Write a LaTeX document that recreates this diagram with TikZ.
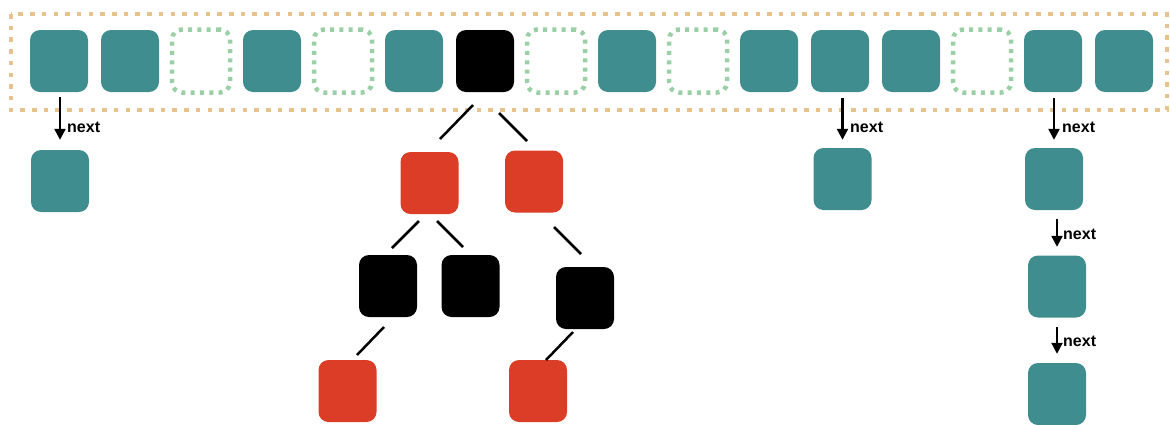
\documentclass[tikz,border=0pt]{standalone}
\usepackage{fontspec}
\setmainfont{Liberation Sans}
\usetikzlibrary{arrows.meta}
\definecolor{tealc}{HTML}{3F8D8E}
\definecolor{redc}{HTML}{DC3D27}
\definecolor{greenc}{HTML}{9BCFA6}
\definecolor{orangec}{HTML}{E8C38D}
\begin{document}
\begin{tikzpicture}[x=1pt,y=-1pt,
  box/.style={rounded corners=10pt, minimum width=58pt, minimum height=62pt, inner sep=0pt, draw=none},
  tealbox/.style={box, fill=tealc},
  redbox/.style={box, fill=redc},
  blackbox/.style={box, fill=black},
  emptybox/.style={box, draw=greenc, line width=4.5pt, dash pattern=on 4pt off 5.3pt, minimum height=63pt},
  nextarrow/.style={line width=2.3pt, -{Triangle[length=11pt,width=11pt]}},
  nextlabel/.style={font=\bfseries\fontsize{16}{17}\selectfont, inner sep=0pt, anchor=base west},
  edge/.style={line width=2.5pt}
]
\useasboundingbox (0,0) rectangle (1170,424);
% outer dashed frame
\draw[orangec, line width=4.6pt, dash pattern=on 4.5pt off 7.2pt] (11,14) rectangle (1167,110);
% top row
\foreach \i/\s in {1/tealbox,2/tealbox,3/emptybox,4/tealbox,5/emptybox,6/tealbox,7/blackbox,8/emptybox,9/tealbox,10/emptybox,11/tealbox,12/tealbox,13/tealbox,14/emptybox,15/tealbox,16/tealbox}
  \node[\s] (t\i) at ({59+71*(\i-1)},61) {};
% chains
\node[tealbox] (l1) at (60,181) {};
\node[tealbox] (l12) at (842.5,179) {};
\node[tealbox] (l15a) at (1054,179) {};
\node[tealbox] (l15b) at (1057,286.5) {};
\node[tealbox] (l15c) at (1057,394) {};
\draw[nextarrow, shorten <=5pt, shorten >=10pt] (l1.north |- t1.south) -- (l1.north);
\draw[nextarrow, shorten <=6pt, shorten >=8pt] (l12.north |- t12.south) -- (l12.north);
\draw[nextarrow, shorten <=6pt, shorten >=8pt] (l15a.north |- t15.south) -- (l15a.north);
\draw[nextarrow, shorten <=9pt, shorten >=8.5pt] (l15b.north |- l15a.south) -- (l15b.north);
\draw[nextarrow, shorten <=9.5pt, shorten >=9pt] (l15c.north |- l15b.south) -- (l15c.north);
\node[nextlabel] (n1) at (67,132.5) {next};
\node[nextlabel] (n12) at (850,132) {next};
\node[nextlabel] (n15a) at (1062,132) {next};
\node[nextlabel] (n15b) at (1063,239) {next};
\node[nextlabel] (n15c) at (1063,346.5) {next};
% tree
\node[redbox] (r1) at (429.5,183) {};
\node[redbox] (r2) at (534,181.5) {};
\node[blackbox] (b1) at (388,286) {};
\node[blackbox] (b2) at (470.5,286) {};
\node[blackbox] (b3) at (585,298) {};
\node[redbox] (r3) at (347.5,391) {};
\node[redbox] (r4) at (538,391) {};
\coordinate (e1a) at (473,105); \coordinate (e1b) at (440,139);
\coordinate (e2a) at (499,113); \coordinate (e2b) at (527,141);
\coordinate (e3a) at (419,221); \coordinate (e3b) at (392,248);
\coordinate (e4a) at (437,221); \coordinate (e4b) at (463,247);
\coordinate (e5a) at (554,227); \coordinate (e5b) at (581,254);
\coordinate (e6a) at (384,327); \coordinate (e6b) at (357,355);
\coordinate (e7a) at (573,332); \coordinate (e7b) at (546,360);
\foreach \k in {1,...,7} \draw[edge] (e\k a) -- (e\k b);
\end{tikzpicture}
\end{document}
